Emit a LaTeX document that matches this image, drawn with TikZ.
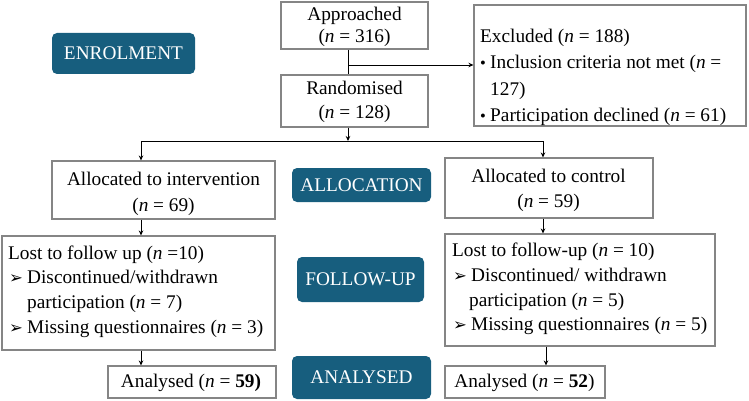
\documentclass[tikz,border=0pt]{standalone}
\usepackage{fontspec}
\setmainfont{Liberation Serif}
\newfontfamily\dejavu{DejaVu Sans}
\usetikzlibrary{arrows.meta}
\definecolor{badgeblue}{HTML}{175E7E}
\definecolor{boxgray}{HTML}{858585}
\newcommand{\arrmark}{\makebox[19pt][l]{\hspace{1pt}\raisebox{0pt}{\dejavu\fontsize{16.5}{16.5}\selectfont ➢}}}
\newcommand{\bulmark}{\makebox[10pt][l]{\raisebox{0.8pt}{\fontsize{16.5}{16.5}\selectfont •}}}
\begin{document}
\begin{tikzpicture}[x=1pt,y=-1pt,
  every node/.style={font=\fontsize{19.3}{25}\selectfont},
  flowbox/.style={draw=boxgray,line width=1.1pt,inner sep=0pt,fill=white},
  badge/.style={fill=badgeblue,text=white,rounded corners=5pt,inner sep=0pt,align=center},
  txt/.style={inner sep=0pt},
  arr/.style={draw=black,line width=0.8pt,-{Stealth[length=5pt,width=4.5pt]}},
  conn/.style={draw=black,line width=0.8pt}]
\useasboundingbox (0,0) rectangle (749,401);
% boxes
\node[flowbox,minimum width=147pt,minimum height=47pt] (appr) at (354.5,25.5) {};
\node[flowbox,minimum width=147pt,minimum height=52pt] (rand) at (354.5,101) {};
\node[flowbox,minimum width=272pt,minimum height=121pt] (excl) at (610,65.5) {};
\node[flowbox,minimum width=223pt,minimum height=58pt] (allocI) at (163.5,190) {};
\node[flowbox,minimum width=208pt,minimum height=60pt] (allocC) at (549,188) {};
\node[flowbox,minimum width=273pt,minimum height=114pt] (lostI) at (138.5,293) {};
\node[flowbox,minimum width=270pt,minimum height=112pt] (lostC) at (580,290) {};
\node[flowbox,minimum width=168pt,minimum height=32pt] (anI) at (192,382) {};
\node[flowbox,minimum width=160pt,minimum height=32pt] (anC) at (525,382) {};
% badges
\node[badge,minimum width=143pt,minimum height=41pt] (bEnr) at (123.5,53.5) {ENROLMENT};
\node[badge,minimum width=139pt,minimum height=34pt] (bAll) at (361.5,185) {ALLOCATION};
\node[badge,minimum width=127pt,minimum height=45pt] (bFol) at (360.5,279.5) {FOLLOW-UP};
\node[badge,minimum width=139pt,minimum height=43pt] (bAna) at (361.5,377.5) {ANALYSED};
% texts
\node[txt,align=center,font=\fontsize{19.3}{22}\selectfont] (tAppr) at (354.5,27) {Approached\\(\textit{n} = 316)};
\node[txt,align=center,font=\fontsize{19.3}{24}\selectfont] (tRand) at (354.5,102) {Randomised\\(\textit{n} = 128)};
\node[txt,align=left,anchor=west,font=\fontsize{19.3}{26.5}\selectfont] (tExcl) at (480,77.5) {Excluded (\textit{n} = 188)\\\bulmark Inclusion criteria not met (\textit{n} =\\\hspace*{10pt}127)\\\bulmark Participation declined (\textit{n} = 61)};
\node[txt,align=center,font=\fontsize{19.3}{26}\selectfont] (tAllocI) at (163.5,193.5) {Allocated to intervention\\(\textit{n} = 69)};
\node[txt,align=center,font=\fontsize{19.3}{25}\selectfont] (tAllocC) at (548.5,190) {Allocated to control\\(\textit{n} = 59)};
\node[txt,align=left,anchor=west,font=\fontsize{19.3}{24.7}\selectfont] (tLostI) at (8,291.5) {Lost to follow up (\textit{n} =10)\\\arrmark Discontinued/withdrawn\\\hspace*{19pt}participation (\textit{n} = 7)\\\arrmark Missing questionnaires (\textit{n} = 3)};
\node[txt,align=left,anchor=west,font=\fontsize{19.3}{24.7}\selectfont] (tLostC) at (452,289) {Lost to follow-up (\textit{n} = 10)\\\arrmark Discontinued/ withdrawn\\\hspace*{17pt}participation (\textit{n} = 5)\\\arrmark Missing questionnaires (\textit{n} = 5)};
\node[txt] (tAnI) at (191,383) {Analysed (\textit{n} = \textbf{59)}};
\node[txt] (tAnC) at (524.5,383) {Analysed (\textit{n} = \textbf{52})};
% connectors
\coordinate (c1) at (348,65);
\coordinate (split) at (348,141);
\coordinate (sl) at (141,141);
\coordinate (sr) at (543,141);
\coordinate (cr) at (546,0);
\draw[conn] (appr.south -| c1) -- (rand.north -| c1);
\draw[arr] (c1) -- (c1 -| excl.west);
\draw[arr] (rand.south -| split) -- (split);
\draw[conn] (sl) -- (sr);
\draw[arr] (sl) -- (sl |- allocI.north);
\draw[arr] (sr) -- (sr |- allocC.north);
\draw[arr] (allocI.south -| sl) -- (lostI.north -| sl);
\draw[arr] (allocC.south -| sr) -- (lostC.north -| sr);
\draw[arr] (lostI.south -| sl) -- (anI.north -| sl);
\draw[arr] (lostC.south -| cr) -- (anC.north -| cr);
\end{tikzpicture}
\end{document}
